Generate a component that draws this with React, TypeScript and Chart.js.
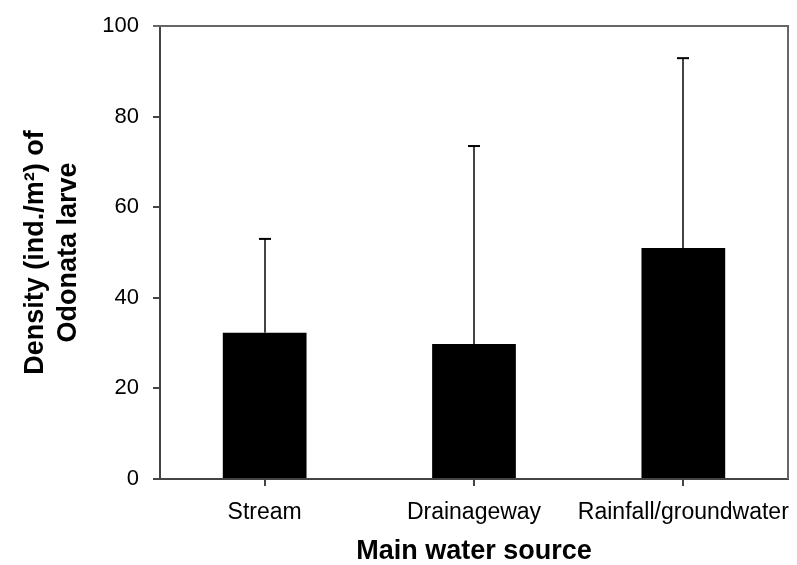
import React, { useEffect, useRef } from "react";
import { Chart, registerables } from "chart.js";

Chart.register(...registerables);

const categories = ["Stream", "Drainageway", "Rainfall/groundwater"];
const meanDensity = [32.3, 29.8, 51.0];
const errorTop = [53.0, 73.5, 92.9];
const yTickValues = [0, 20, 40, 60, 80, 100];
const xTitle = "Main water source";
const yTitle = ["Density (ind./m\u00B2) of", "Odonata larve"];

const FONT = "Arial, 'Liberation Sans', sans-serif";

const errorBarPlugin = {
  id: "errorBars",
  afterDatasetsDraw(chart: any) {
    const ctx = chart.ctx;
    const meta = chart.getDatasetMeta(0);
    const yScale = chart.scales.y;
    ctx.save();
    meta.data.forEach((bar: any, i: number) => {
      const x = Math.round(bar.x);
      const y0 = yScale.getPixelForValue(meanDensity[i]);
      const y1 = yScale.getPixelForValue(errorTop[i]);
      ctx.strokeStyle = "#444";
      ctx.lineWidth = 2;
      ctx.beginPath();
      ctx.moveTo(x, y0);
      ctx.lineTo(x, y1);
      ctx.stroke();
      ctx.strokeStyle = "#000";
      ctx.lineWidth = 2;
      ctx.beginPath();
      ctx.moveTo(x - 6, y1);
      ctx.lineTo(x + 6, y1);
      ctx.stroke();
    });
    ctx.restore();
  },
};

const framePlugin = {
  id: "frame",
  afterDraw(chart: any) {
    const { ctx, chartArea } = chart;
    ctx.save();
    ctx.strokeStyle = "#666";
    ctx.lineWidth = 2;
    ctx.beginPath();
    ctx.moveTo(chartArea.left - 7, chartArea.top);
    ctx.lineTo(chartArea.right, chartArea.top);
    ctx.lineTo(chartArea.right, chartArea.bottom);
    ctx.stroke();
    ctx.restore();
  },
};

export default function App() {
  const ref = useRef<HTMLCanvasElement | null>(null);

  useEffect(() => {
    if (!ref.current) return;
    const chart = new Chart(ref.current, {
      type: "bar",
      data: {
        labels: categories,
        datasets: [
          {
            data: meanDensity,
            backgroundColor: "#000",
            borderWidth: 0,
            categoryPercentage: 1,
            barPercentage: 0.4,
          },
        ],
      },
      plugins: [errorBarPlugin, framePlugin],
      options: {
        animation: false,
        responsive: false,
        maintainAspectRatio: false,
        devicePixelRatio: 1,
        layout: { padding: { top: 26, right: 9, left: 0, bottom: 0 } },
        plugins: {
          legend: { display: false },
          tooltip: { enabled: false },
        },
        scales: {
          x: {
            grid: {
              offset: false,
              drawOnChartArea: false,
              drawTicks: true,
              tickLength: 7,
              color: "#444",
              lineWidth: 2,
            },
            border: { display: true, color: "#444", width: 2 },
            ticks: {
              color: "#000",
              font: { family: FONT, size: 23 },
              padding: 13,
              maxRotation: 0,
              autoSkip: false,
            },
            title: {
              display: true,
              text: xTitle,
              color: "#000",
              font: { family: FONT, size: 27, weight: "bold", lineHeight: 1 },
              padding: { top: 0, bottom: 0 },
            },
            afterFit(scale: any) {
              scale.height = 86;
              scale.paddingLeft = 0;
              scale.paddingRight = 0;
            },
          },
          y: {
            min: 0,
            max: 100,
            afterBuildTicks(scale: any) {
              scale.ticks = yTickValues.map((v) => ({ value: v }));
            },
            grid: {
              drawOnChartArea: false,
              drawTicks: true,
              tickLength: 7,
              color: "#444",
              lineWidth: 2,
            },
            border: { display: true, color: "#444", width: 2 },
            ticks: {
              color: "#000",
              font: { family: FONT, size: 22 },
              padding: 14,
            },
            title: {
              display: true,
              text: yTitle,
              color: "#000",
              font: { family: FONT, size: 27, weight: "bold", lineHeight: 1.22 },
              padding: { top: 19, bottom: 0 },
            },
            afterFit(scale: any) {
              scale.width = 160;
              scale.paddingTop = 0;
              scale.paddingBottom = 0;
            },
          },
        },
      },
    } as any);
    return () => chart.destroy();
  }, []);

  return (
    <div style={{ position: "absolute", left: 0, top: 0, width: 797, height: 565, background: "#fff" }}>
      <canvas ref={ref} width={797} height={565} style={{ width: 797, height: 565, display: "block" }} />
    </div>
  );
}
